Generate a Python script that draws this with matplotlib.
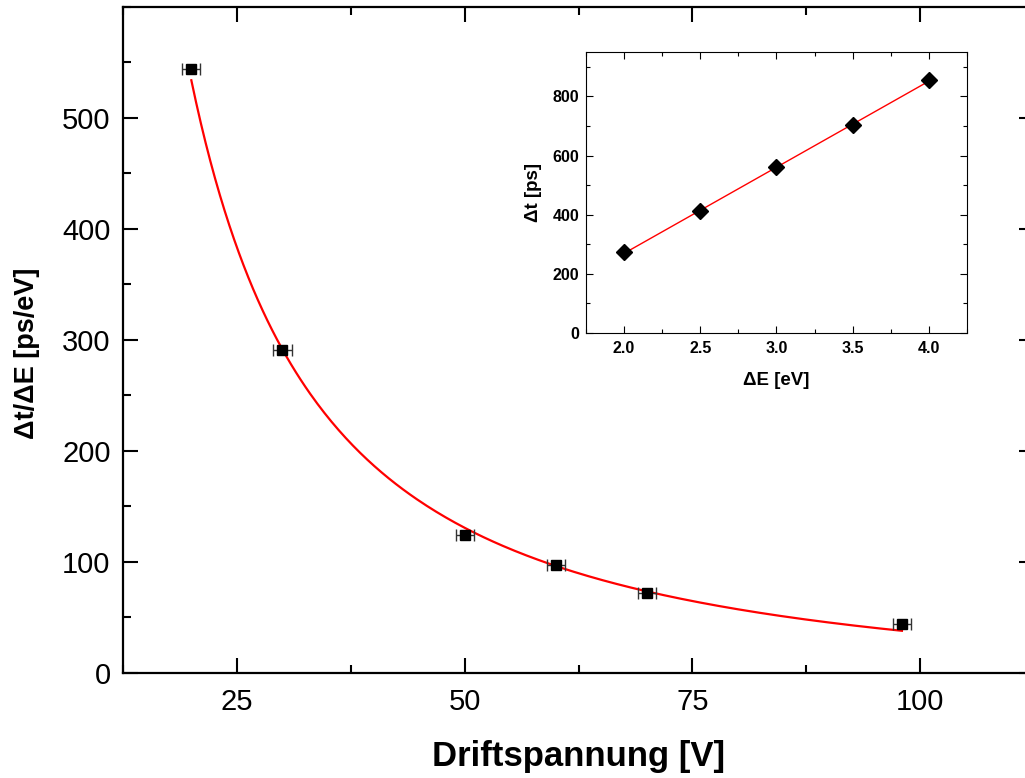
import numpy as np
import matplotlib
matplotlib.use('Agg')
import matplotlib.pyplot as plt
from matplotlib.ticker import MultipleLocator

plt.rcParams['font.family'] = ['Liberation Sans', 'DejaVu Sans']

# main data: drift voltage vs dt/dE
drift_v = [20, 30, 50, 60, 70, 98]
dt_de = [544, 291, 124, 97, 72, 44]
drift_err = [1, 1, 1, 1, 1, 1]

# power law fit: y = A*(x/20)^-B + C
fit_A = 554
fit_B = 1.42
fit_C = -20
fit_range = (20, 98)

# inset data
delta_e = [2.0, 2.5, 3.0, 3.5, 4.0]
delta_t = [273, 411, 561, 703, 855]

fig = plt.figure(figsize=(10.25, 7.78), dpi=100)
ax = fig.add_axes([0.12, 0.135, 0.8888, 0.856])

xf = np.linspace(fit_range[0], fit_range[1], 300)
ax.plot(xf, fit_A * (xf / 20.0) ** (-fit_B) + fit_C, color='red', lw=1.6, zorder=2)
ax.errorbar(drift_v, dt_de, xerr=drift_err, fmt='s', color='black', ms=7,
            ecolor='#333333', elinewidth=1, capsize=4.5, capthick=1, zorder=3)

ax.set_xlim(12.5, 112.5)
ax.set_ylim(0, 600)
ax.xaxis.set_major_locator(MultipleLocator(25))
ax.xaxis.set_minor_locator(MultipleLocator(12.5))
ax.yaxis.set_major_locator(MultipleLocator(100))
ax.yaxis.set_minor_locator(MultipleLocator(50))
ax.set_yticks([0, 100, 200, 300, 400, 500])
ax.tick_params(which='both', direction='in', top=True, right=True, width=1.5)
ax.tick_params(which='major', length=11, labelsize=21)
ax.tick_params(which='minor', length=6)
ax.tick_params(axis='y', pad=9)
ax.tick_params(axis='x', pad=11)
for spine in ax.spines.values():
    spine.set_linewidth(1.6)

ax.set_xlabel('Driftspannung [V]', fontsize=25, fontweight='bold')
ax.set_ylabel('Δt/ΔE [ps/eV]', fontsize=19.5, fontweight='bold')
ax.xaxis.set_label_coords(0.5, -0.100)
ax.yaxis.set_label_coords(-0.091, 0.48)

# inset
ins = fig.add_axes([0.5717, 0.572, 0.3717, 0.361])
coef = np.polyfit(delta_e, delta_t, 1)
xl = np.array([delta_e[0], delta_e[-1]])
ins.plot(xl, np.polyval(coef, xl), color='red', lw=1, zorder=2)
ins.plot(delta_e, delta_t, 'D', color='black', ms=8, zorder=3)

ins.set_xlim(1.75, 4.25)
ins.set_ylim(0, 950)
ins.xaxis.set_major_locator(MultipleLocator(0.5))
ins.xaxis.set_minor_locator(MultipleLocator(0.25))
ins.yaxis.set_major_locator(MultipleLocator(200))
ins.yaxis.set_minor_locator(MultipleLocator(100))
ins.set_xticks([2.0, 2.5, 3.0, 3.5, 4.0])
ins.set_xticklabels(['2.0', '2.5', '3.0', '3.5', '4.0'])
ins.set_yticks([0, 200, 400, 600, 800])
ins.tick_params(which='both', direction='in', top=True, right=True, width=0.8)
ins.tick_params(which='major', length=5, labelsize=11.5)
ins.tick_params(which='minor', length=3)
ins.tick_params(axis='y', pad=5)
ins.tick_params(axis='x', pad=6)
for lab in ins.get_xticklabels() + ins.get_yticklabels():
    lab.set_fontweight('bold')
for spine in ins.spines.values():
    spine.set_linewidth(0.8)

ins.set_xlabel('ΔE [eV]', fontsize=13.5, fontweight='bold')
ins.set_ylabel('Δt [ps]', fontsize=13.5, fontweight='bold')
ins.xaxis.set_label_coords(0.5, -0.139)
ins.yaxis.set_label_coords(-0.115, 0.5)

plt.savefig('out.png', dpi=100)
